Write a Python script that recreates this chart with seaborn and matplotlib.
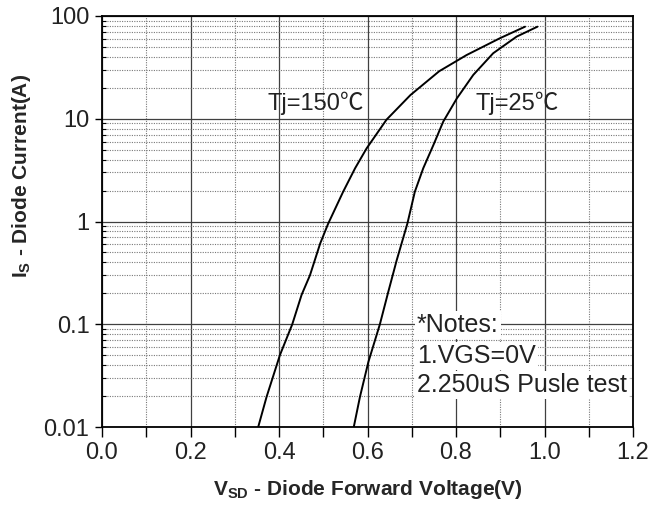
import matplotlib
matplotlib.use("Agg")
import matplotlib.pyplot as plt
import numpy as np
import pandas as pd
import seaborn as sns
from matplotlib.ticker import MultipleLocator, FixedLocator, FuncFormatter, NullFormatter

# Source-drain diode forward characteristics
v_150 = [0.353, 0.372, 0.402, 0.430, 0.451, 0.470, 0.493, 0.511, 0.545, 0.572,
         0.598, 0.643, 0.697, 0.762, 0.824, 0.899, 0.956]
i_150 = [0.01, 0.0197, 0.05, 0.1, 0.193, 0.30, 0.61, 0.95, 1.95, 3.3,
         5.15, 9.8, 17.0, 29.0, 41.7, 60.7, 78.7]

v_25 = [0.569, 0.583, 0.602, 0.628, 0.647, 0.666, 0.690, 0.707, 0.726, 0.749,
        0.771, 0.802, 0.839, 0.884, 0.937, 0.984]
i_25 = [0.01, 0.0197, 0.043, 0.1, 0.207, 0.42, 0.95, 1.95, 3.3, 5.56,
        9.35, 15.8, 26.7, 43.4, 63.0, 78.7]

x_ticks = [0.0, 0.2, 0.4, 0.6, 0.8, 1.0, 1.2]
y_ticks = [0.01, 0.1, 1, 10, 100]
y_tick_labels = ["0.01", "0.1", "1", "10", "100"]

curve_labels = ["Tj=150\u2103", "Tj=25\u2103"]
notes = ["*Notes:", "1.VGS=0V", "2.250uS Pusle test"]

df = pd.concat([
    pd.DataFrame({"V": v_150, "I": i_150, "Tj": "150"}),
    pd.DataFrame({"V": v_25, "I": i_25, "Tj": "25"}),
])

sns.set_theme(style="white")
plt.rcParams["font.family"] = ["Liberation Sans", "Noto Sans CJK SC", "DejaVu Sans"]
plt.rcParams["mathtext.fontset"] = "custom"
plt.rcParams["mathtext.rm"] = "Liberation Sans"
plt.rcParams["mathtext.bf"] = "Liberation Sans:bold"
plt.rcParams["mathtext.it"] = "Liberation Sans:italic"

fig = plt.figure(figsize=(6.67, 5.12), dpi=100)
ax = fig.add_axes([102 / 667, 1 - 427 / 512, (633 - 102) / 667, (427 - 16) / 512])

sns.lineplot(data=df, x="V", y="I", hue="Tj", palette={"150": "black", "25": "black"},
             sort=False, estimator=None, legend=False, lw=1.4, ax=ax)

ax.set_yscale("log")
ax.set_xlim(0, 1.2)
ax.set_ylim(0.01, 100)

ax.xaxis.set_major_locator(FixedLocator(x_ticks))
ax.xaxis.set_minor_locator(MultipleLocator(0.1))
ax.xaxis.set_major_formatter(FuncFormatter(lambda v, p: f"{v:.1f}"))
ax.yaxis.set_major_locator(FixedLocator(y_ticks))
ax.set_yticklabels(y_tick_labels)
minor_y = [m * 10.0 ** e for e in range(-2, 2) for m in range(2, 10)]
ax.yaxis.set_minor_locator(FixedLocator(minor_y))
ax.yaxis.set_minor_formatter(NullFormatter())

# grid: solid majors, dotted minors
ax.set_axisbelow(True)
ax.grid(which="major", ls="-", color="#404040", lw=0.9)
ax.grid(which="minor", ls=(0, (1.0, 1.2)), color="#787878", lw=0.8)

for s in ax.spines.values():
    s.set_color("black")
    s.set_linewidth(1.3)

ax.tick_params(axis="x", which="both", direction="out", length=7, width=1,
               bottom=True, top=False, color="black", labelsize=17,
               labelcolor="#222222", pad=4)
ax.tick_params(axis="y", which="major", direction="out", length=5, width=1,
               left=True, right=False, color="black", labelsize=17,
               labelcolor="#222222", pad=4)
ax.tick_params(axis="y", which="minor", direction="in", length=3, width=0.8,
               left=True, right=False, color="black")

ax.set_xlabel(r"$\mathbf{V_{SD}}$ - Diode Forward Voltage(V)", fontsize=15,
              fontweight="bold", labelpad=10)
ax.set_ylabel(r"$\mathbf{I_S}$ - Diode Current(A)", fontsize=15,
              fontweight="bold")
ax.yaxis.set_label_coords(-0.13, 0.61)

ax.text(0.375, 12.2, curve_labels[0], fontsize=17, color="#222222", ha="left", va="baseline")
ax.text(0.843, 12.1, curve_labels[1], fontsize=17, color="#222222", ha="left", va="baseline")

for txt, yv in zip(notes, [0.0846, 0.0417, 0.02206]):
    ax.text(0.712, yv, txt, fontsize=18, color="#222222", ha="left", va="baseline",
            bbox=dict(facecolor="white", edgecolor="none", pad=1.5))

fig.savefig("out.png", dpi=100)
